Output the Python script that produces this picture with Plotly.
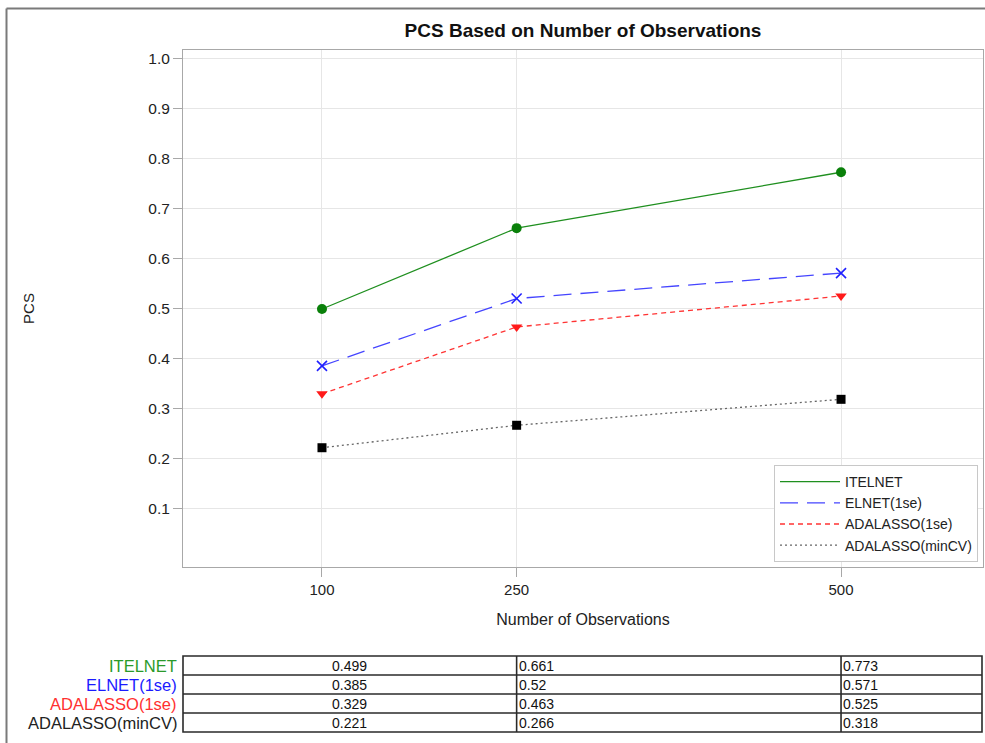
import plotly.graph_objects as go

# Sample sizes and PCS results per method
n_obs = [100, 250, 500]
methods = ["ITELNET", "ELNET(1se)", "ADALASSO(1se)", "ADALASSO(minCV)"]
pcs_itelnet = [0.499, 0.661, 0.773]
pcs_elnet_1se = [0.385, 0.52, 0.571]
pcs_adalasso_1se = [0.329, 0.463, 0.525]
pcs_adalasso_mincv = [0.221, 0.266, 0.318]
y_ticks = [0.1, 0.2, 0.3, 0.4, 0.5, 0.6, 0.7, 0.8, 0.9, 1.0]

series = [pcs_itelnet, pcs_elnet_1se, pcs_adalasso_1se, pcs_adalasso_mincv]
line_colors = ["#1f8f1f", "#4545ff", "#ff3333", "#666666"]
marker_colors = ["#0a800a", "#2020ff", "#ff1a1a", "#000000"]
label_colors = ["#2a9a2a", "#1a1aff", "#ff3030", "#222222"]
dashes = ["solid", "18px,9px", "5px,4px", "2px,3px"]
symbols = ["circle", "x-thin-open", "triangle-down", "square"]
sizes = [10, 10, 10, 9]

FONT = "Liberation Sans, Arial, sans-serif"

W, H = 985, 743
M_L, M_R, M_T, M_B = 183, 2, 50, 4
PW, PH = W - M_L - M_R, H - M_T - M_B
X_RANGE = [-7.1, 609.4]


def px_x(px):
    return (px - M_L) / PW


def px_y(py):
    return (H - M_B - py) / PH


fig = go.Figure()

for name, vals, lc, mc, dash, sym, sz in zip(
    methods, series, line_colors, marker_colors, dashes, symbols, sizes
):
    fig.add_trace(go.Scatter(
        x=n_obs, y=vals, mode="lines", name=name,
        line=dict(color=lc, width=1.3, dash=dash),
        legendgroup=name,
    ))
    fig.add_trace(go.Scatter(
        x=n_obs, y=vals, mode="markers", name=name, showlegend=False,
        legendgroup=name,
        marker=dict(symbol=sym, size=sz, color=mc,
                    line=dict(color=mc, width=1.6 if "x" in sym else 0)),
    ))

# Values table below the axis: rows = methods, columns = sample sizes
row_edges = [656, 675, 694, 713, 732]
TABLE_LINE = dict(color="#2a2a2a", width=1.6)
fig.add_shape(type="rect", xref="paper", yref="paper",
              x0=0, x1=px_x(982), y0=px_y(row_edges[0]), y1=px_y(row_edges[-1]),
              line=TABLE_LINE, fillcolor="rgba(0,0,0,0)")
for edge in row_edges[1:-1]:
    fig.add_shape(type="line", xref="paper", yref="paper",
                  x0=0, x1=px_x(982), y0=px_y(edge), y1=px_y(edge),
                  line=TABLE_LINE)
for n in n_obs[1:]:
    fig.add_shape(type="line", xref="x", yref="paper",
                  x0=n, x1=n, y0=px_y(row_edges[0]), y1=px_y(row_edges[-1]),
                  line=TABLE_LINE)

for r, (name, col, vals) in enumerate(zip(methods, label_colors, series)):
    yc = px_y((row_edges[r] + row_edges[r + 1]) / 2)
    fig.add_annotation(
        x=px_x(179), y=yc, xref="paper", yref="paper",
        text=name, showarrow=False, xanchor="right", yanchor="middle",
        font=dict(family=FONT, size=16.5, color=col),
    )
    for c, v in enumerate(vals):
        if c == 0:
            xpos, anchor = (X_RANGE[0] + n_obs[1]) / 2, "center"
        else:
            xpos, anchor = n_obs[c], "left"
        fig.add_annotation(
            x=xpos, y=yc, xref="x", yref="paper",
            text=f"{v:g}", showarrow=False, xanchor=anchor, yanchor="middle",
            font=dict(family=FONT, size=14, color="#111111"),
        )

# Outer frame (top and left edges)
fig.add_shape(type="line", xref="paper", yref="paper",
              x0=px_x(6.5), x1=px_x(990), y0=px_y(8.5), y1=px_y(8.5),
              line=dict(color="#7a7a7a", width=2))
fig.add_shape(type="line", xref="paper", yref="paper",
              x0=px_x(6.5), x1=px_x(6.5), y0=px_y(8.5), y1=px_y(750),
              line=dict(color="#7a7a7a", width=2))

fig.update_layout(
    width=W, height=H,
    margin=dict(l=M_L, r=M_R, t=M_T, b=M_B),
    paper_bgcolor="white", plot_bgcolor="white",
    font=dict(family=FONT, size=14, color="#222222"),
    title=dict(
        text="<b>PCS Based on Number of Observations</b>",
        x=583 / W, xanchor="center",
        y=1 - 30 / H, yanchor="middle",
        font=dict(family=FONT, size=19, color="#111111"),
    ),
    xaxis=dict(
        range=X_RANGE, tickvals=n_obs,
        showgrid=True, gridcolor="#e6e6e6", gridwidth=1,
        showline=True, mirror=True, linecolor="#a8a8a8", linewidth=1,
        ticks="outside", ticklen=9, tickcolor="#a8a8a8",
        tickfont=dict(family=FONT, size=15, color="#222222"),
        title=dict(text="Number of Observations", standoff=16,
                   font=dict(family=FONT, size=16, color="#222222")),
        zeroline=False, anchor="y",
    ),
    yaxis=dict(
        domain=[px_y(567), 1], range=[-0.018, 1.018],
        tickvals=y_ticks, tickformat=".1f",
        showgrid=True, gridcolor="#e6e6e6", gridwidth=1,
        showline=True, mirror=True, linecolor="#a8a8a8", linewidth=1,
        ticks="outside", ticklen=9, tickcolor="#a8a8a8",
        tickfont=dict(family=FONT, size=15.5, color="#222222"),
        title=dict(text="PCS", standoff=110,
                   font=dict(family=FONT, size=15, color="#222222")),
        zeroline=False,
    ),
    legend=dict(
        x=px_x(978), xanchor="right", y=px_y(562), yanchor="bottom",
        bgcolor="white", bordercolor="#c8c8c8", borderwidth=1,
        font=dict(family=FONT, size=14, color="#222222"),
        itemwidth=60, tracegroupgap=0,
    ),
    showlegend=True,
)

fig.write_html("out.html")
